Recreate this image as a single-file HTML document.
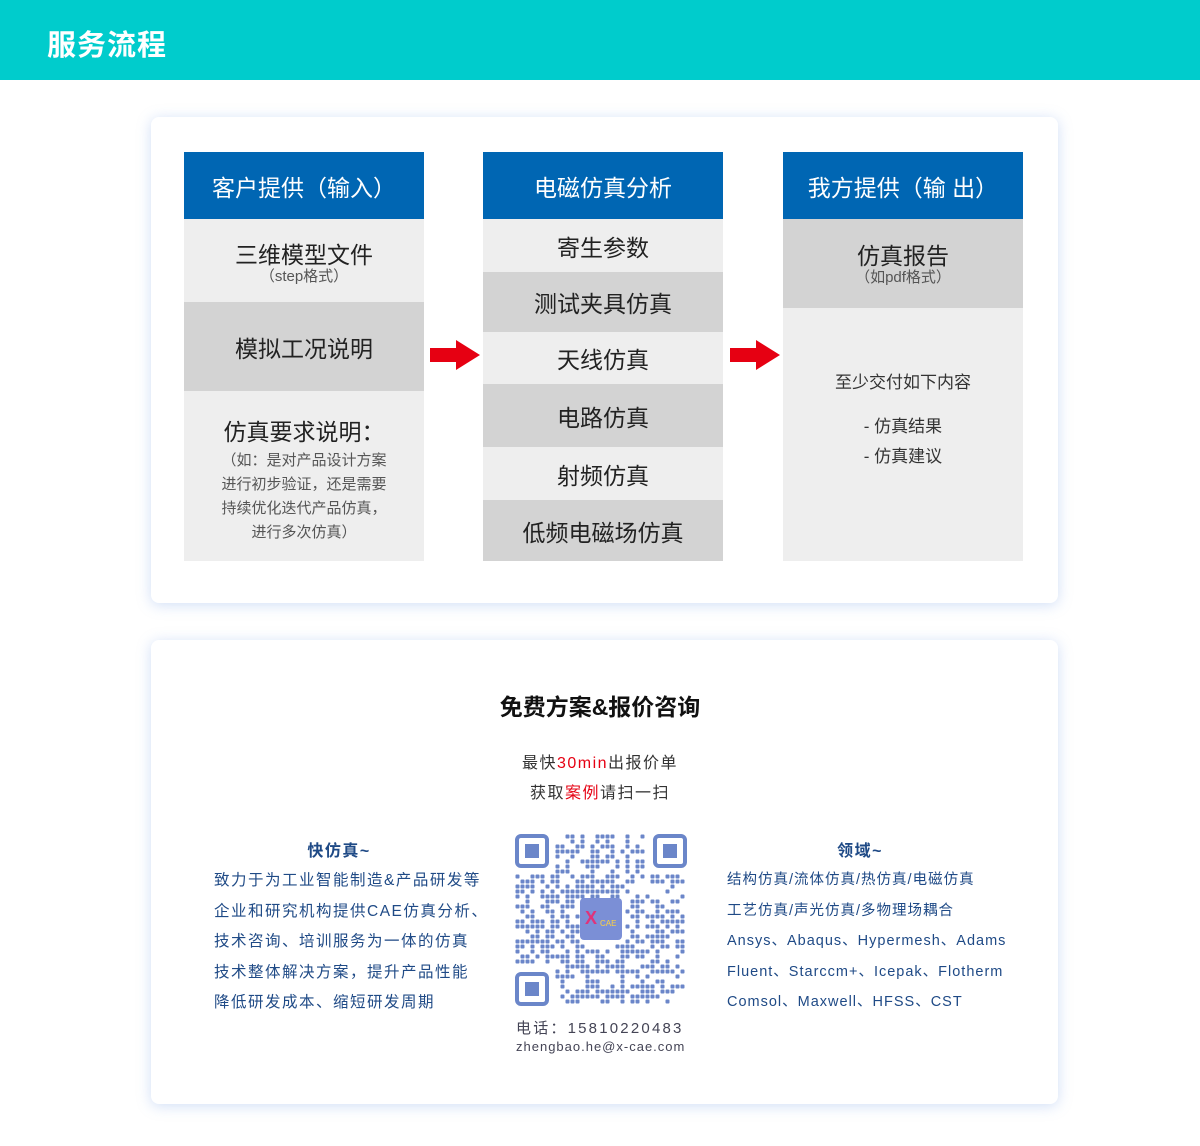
<!DOCTYPE html>
<html><head><meta charset="utf-8">
<style>
*{margin:0;padding:0;box-sizing:border-box}
body{width:1200px;height:1146px;background:#fff;position:relative;font-family:"Liberation Sans","Noto Sans CJK SC",sans-serif;overflow:hidden}
.abs{position:absolute}
.hdr{left:0;top:0;width:1200px;height:80px;background:#00CCCC}
.hdr span{position:absolute;left:47px;top:22px;font-size:29px;font-weight:bold;color:#fff;letter-spacing:1px}
.card{left:151px;width:907px;background:#fff;border-radius:8px;box-shadow:0 2px 14px rgba(120,160,230,0.35)}
.blk{position:absolute;display:flex;flex-direction:column;align-items:center;justify-content:center;text-align:center;color:#222}
.h{background:#0066B3;color:#fff;font-size:23px}
.l{background:#eeeeee}.g{background:#d3d3d3}
.t{font-size:23px;color:#222}
.s{font-size:15px;color:#555;line-height:24px}
.arrow{position:absolute;width:50px;height:30px}
.c2{position:absolute;color:#333;font-size:16px;letter-spacing:1.5px}
.blue{color:#1f4a86}
</style></head><body>
<div class="abs hdr"><span>服务流程</span></div>
<div class="abs card" style="top:117px;height:486px"></div>
<div class="abs card" style="top:640px;height:464px"></div>

<!-- col1 -->
<div class="blk h" style="left:184px;top:152px;width:240px;height:67px">客户提供（输入）</div>
<div class="blk l" style="left:184px;top:219px;width:240px;height:83px;padding-top:6px"><div class="t" style="line-height:26px">三维模型文件</div><div class="s" style="line-height:18px">（step格式）</div></div>
<div class="blk g" style="left:184px;top:302px;width:240px;height:89px"><div class="t">模拟工况说明</div></div>
<div class="blk l" style="left:184px;top:391px;width:240px;height:170px;padding-top:8px"><div class="t" style="line-height:34px">仿真要求说明：</div><div class="s">（如：是对产品设计方案<br>进行初步验证，还是需要<br>持续优化迭代产品仿真，<br>进行多次仿真）</div></div>

<!-- col2 -->
<div class="blk h" style="left:483px;top:152px;width:240px;height:67px">电磁仿真分析</div>
<div class="blk l t" style="left:483px;top:219px;width:240px;height:53px">寄生参数</div>
<div class="blk g t" style="left:483px;top:272px;width:240px;height:60px">测试夹具仿真</div>
<div class="blk l t" style="left:483px;top:332px;width:240px;height:52px">天线仿真</div>
<div class="blk g t" style="left:483px;top:384px;width:240px;height:63px">电路仿真</div>
<div class="blk l t" style="left:483px;top:447px;width:240px;height:53px">射频仿真</div>
<div class="blk g t" style="left:483px;top:500px;width:240px;height:61px">低频电磁场仿真</div>

<!-- col3 -->
<div class="blk h" style="left:783px;top:152px;width:240px;height:67px">我方提供（输 出）</div>
<div class="blk g" style="left:783px;top:219px;width:240px;height:89px"><div class="t" style="line-height:28px">仿真报告</div><div class="s" style="line-height:16px">（如pdf格式）</div></div>
<div class="blk l" style="left:783px;top:308px;width:240px;height:253px;font-size:17px;color:#333;line-height:30px;padding-bottom:30px"><div>至少交付如下内容</div><div style="height:14px"></div><div>- 仿真结果</div><div>- 仿真建议</div></div>

<svg class="arrow" style="left:430px;top:340px" viewBox="0 0 50 30"><polygon points="0,8 26,8 26,0 50,15 26,30 26,22 0,22" fill="#e60012"/></svg>
<svg class="arrow" style="left:730px;top:340px" viewBox="0 0 50 30"><polygon points="0,8 26,8 26,0 50,15 26,30 26,22 0,22" fill="#e60012"/></svg>

<!-- card 2 -->
<div class="abs" style="left:0;width:1200px;top:688px;text-align:center;font-size:23px;font-weight:bold;color:#111">免费方案&amp;报价咨询</div>
<div class="abs" style="left:0;width:1200px;top:749px;text-align:center;font-size:16px;color:#333;letter-spacing:1.5px;line-height:30px">最快<span style="color:#e60012">30min</span>出报价单<br>获取<span style="color:#e60012">案例</span>请扫一扫</div>

<div class="c2 blue" style="left:214px;top:837px;width:240px;text-align:center;font-weight:bold;font-size:16px;left:219px">快仿真~</div>
<div class="c2 blue" style="left:214px;top:866px;line-height:30.5px;font-size:15.5px">致力于为工业智能制造&amp;产品研发等<br>企业和研究机构提供CAE仿真分析、<br>技术咨询、培训服务为一体的仿真<br>技术整体解决方案，提升产品性能<br>降低研发成本、缩短研发周期</div>

<div class="c2 blue" style="left:800px;top:837px;width:120px;text-align:center;font-weight:bold">领域~</div>
<div class="c2 blue" style="left:727px;top:865px;line-height:30.5px;font-size:14.5px;letter-spacing:1px">结构仿真/流体仿真/热仿真/电磁仿真<br>工艺仿真/声光仿真/多物理场耦合<br>Ansys、Abaqus、Hypermesh、Adams<br>Fluent、Starccm+、Icepak、Flotherm<br>Comsol、Maxwell、HFSS、CST</div>

<svg id="qr" class="abs" style="left:515px;top:834px" width="172" height="172" viewBox="0 0 172 172"></svg>
<div class="abs" style="left:516px;top:1017px;font-size:15px;color:#445;letter-spacing:2.2px">电话：15810220483</div>
<div class="abs" style="left:516px;top:1039px;font-size:13px;color:#445;letter-spacing:1px">zhengbao.he@x-cae.com</div>

<script>
(function(){
var s=document.getElementById('qr'),c='#6b86c9',h='';
var seed=7;function r(){seed=(seed*9301+49297)%233280;return seed/233280;}
function finder(x,y){h+='<rect x="'+(x+2)+'" y="'+(y+2)+'" width="30" height="30" rx="4" fill="none" stroke="'+c+'" stroke-width="4"/><rect x="'+(x+10)+'" y="'+(y+10)+'" width="14" height="14" fill="'+c+'"/>';}
for(var i=0;i<34;i++)for(var j=0;j<34;j++){var x=i*5,y=j*5;
if((i<8&&j<8)||(i>25&&j<8)||(i<8&&j>25))continue;
if(i>12&&i<22&&j>12&&j<22)continue;
if(r()<0.5)h+='<rect x="'+(x+0.5)+'" y="'+(y+0.5)+'" width="4" height="4" rx="1" fill="'+c+'"/>';}
finder(0,0);finder(138,0);finder(0,138);
h+='<rect x="65" y="64" width="42" height="42" rx="4" fill="#7b8fd6"/><text x="70" y="90" font-size="18" font-weight="bold" fill="#e0337a" font-family="Liberation Sans">X</text><text x="85" y="92" font-size="8" fill="#ffd23f" font-family="Liberation Sans">CAE</text>';
s.innerHTML=h;})();
</script>
</body></html>
